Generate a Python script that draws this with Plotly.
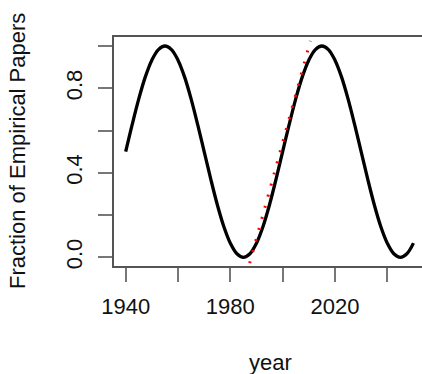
import plotly.graph_objects as go

# Data
years = [1940, 1942.5, 1945, 1947.5, 1950, 1952.5, 1955, 1957.5, 1960, 1962.5,
         1965, 1967.5, 1970, 1972.5, 1975, 1977.5, 1980, 1982.5, 1985, 1987.5,
         1990, 1992.5, 1995, 1997.5, 2000, 2002.5, 2005, 2007.5, 2010, 2012.5,
         2015, 2017.5, 2020, 2022.5, 2025, 2027.5, 2030, 2032.5, 2035, 2037.5,
         2040, 2042.5, 2045, 2047.5, 2050]
fraction = [0.5, 0.629, 0.75, 0.854, 0.933, 0.983, 1.0, 0.983, 0.933, 0.854,
            0.75, 0.629, 0.5, 0.371, 0.25, 0.146, 0.067, 0.017, 0.0, 0.017,
            0.067, 0.146, 0.25, 0.371, 0.5, 0.629, 0.75, 0.854, 0.933, 0.983,
            1.0, 0.983, 0.933, 0.854, 0.75, 0.629, 0.5, 0.371, 0.25, 0.146,
            0.067, 0.017, 0.0, 0.017, 0.067]

trend_years = [1987.4, 2010.6]
trend_values = [-0.028, 1.024]

x_tick_vals = [1940, 1960, 1980, 2000, 2020, 2040]
x_tick_text = ["1940", "", "1980", "", "2020", ""]
y_tick_vals = [0.0, 0.2, 0.4, 0.6, 0.8, 1.0]
y_tick_text = ["0.0", "", "0.4", "", "0.8", ""]

FONT = "Liberation Sans, Arial, Helvetica, sans-serif"

fig = go.Figure()
fig.add_trace(go.Scatter(
    x=years, y=fraction, mode="lines",
    line=dict(color="black", width=3.3, shape="spline"),
    hoverinfo="skip", showlegend=False))
fig.add_trace(go.Scatter(
    x=trend_years, y=trend_values, mode="lines",
    line=dict(color="#ff0000", width=3, dash="2px,9.5px"),
    hoverinfo="skip", showlegend=False))

fig.update_layout(
    width=422, height=374,
    margin=dict(l=114, r=0, t=37, b=108, autoexpand=False),
    paper_bgcolor="white", plot_bgcolor="white",
    font=dict(family=FONT, size=22, color="#111111"),
    xaxis=dict(
        range=[1935.53, 2053.27], showgrid=False, zeroline=False,
        automargin=False,
        showline=True, mirror=True, linecolor="#555555", linewidth=1.5,
        ticks="outside", ticklen=14, tickwidth=1.5, tickcolor="#777777",
        tickvals=x_tick_vals, ticktext=x_tick_text,
        ticklabelstandoff=6,
        tickfont=dict(family=FONT, size=22, color="#111111"),
    ),
    yaxis=dict(
        range=[-0.0412, 1.0426], showgrid=False, zeroline=False,
        automargin=False,
        showline=True, mirror=False, linecolor="#555555", linewidth=1.5,
        ticks="outside", ticklen=14, tickwidth=1.5, tickcolor="#777777",
        tickvals=y_tick_vals, ticktext=y_tick_text, tickangle=-90,
        ticklabelstandoff=7,
        tickfont=dict(family=FONT, size=22, color="#111111"),
    ),
    annotations=[
        dict(text="Fraction of Empirical Papers", xref="paper", yref="paper",
             x=(17.5 - 114) / 308, y=0.5, xanchor="center", yanchor="middle",
             textangle=-90, showarrow=False,
             font=dict(family=FONT, size=22, color="#111111")),
        dict(text="year", xref="paper", yref="paper",
             x=(270 - 114) / 308, y=-(362 - 265.7) / 229,
             xanchor="center", yanchor="middle", showarrow=False,
             font=dict(family=FONT, size=22, color="#111111")),
    ],
)

fig.write_html(
    "out.html",
    config={"displayModeBar": False},
    post_script="document.body.style.margin='0';document.body.style.overflow='hidden';",
)
